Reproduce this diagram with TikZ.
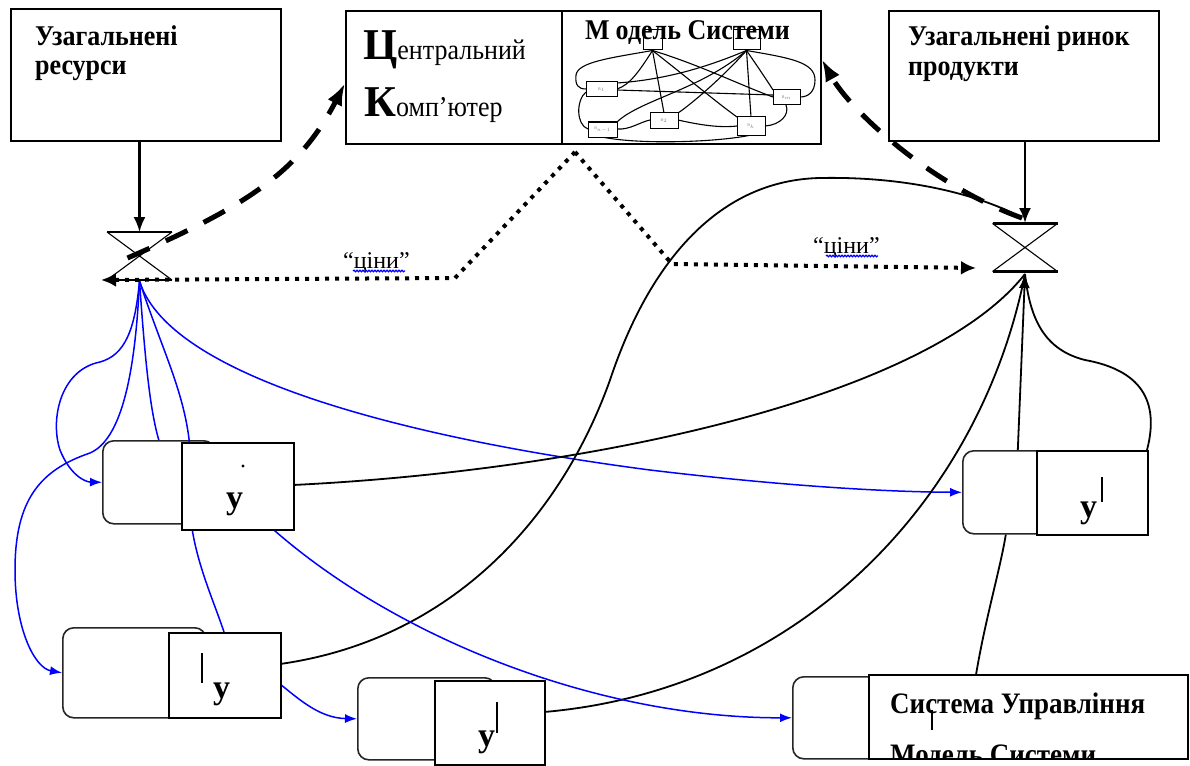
\documentclass[tikz,border=0pt]{standalone}
\usepackage{fontspec}
\setmainfont{Liberation Serif}
\usepackage{graphicx}
\usetikzlibrary{arrows.meta,decorations.pathmorphing}

% slightly tall lettering
\newcommand{\tallish}[1]{\scalebox{1}[1.1]{#1}}

\begin{document}
\begin{tikzpicture}[x=1pt,y=-1pt,
  frame/.style={draw,line width=1.8pt,fill=white,inner sep=0pt,anchor=north west},
  rpart/.style={draw=black!85,line width=1.6pt,fill=white,rounded corners=11pt,inner sep=0pt,anchor=north west},
  spart/.style={draw,line width=1.6pt,fill=white,inner sep=0pt,anchor=north west},
  tinybox/.style={draw,line width=1pt,inner sep=0pt,fill=white,text=black!50,font=\fontsize{4}{4}\selectfont},
  graphline/.style={line width=1.1pt},
  txt/.style={inner sep=0pt,anchor=base west},
  headfont/.style={font=\bfseries\fontsize{26}{26}\selectfont},
  yfont/.style={font=\bfseries\fontsize{34}{34}\selectfont},
  feed/.style={line width=2.2pt,-{Latex[length=15pt,width=12pt]}},
  flow/.style={draw=blue,line width=1.5pt,-{Latex[length=12pt,width=9pt]}},
  link/.style={line width=1.8pt},
  price/.style={line width=4pt,dash pattern=on 4pt off 6pt,-{Latex[length=15pt,width=14pt]}},
  query/.style={line width=5pt,dash pattern=on 24pt off 18pt,-{Latex[length=22pt,width=16pt]}},
  glass/.pic={
    \draw[line width=2.4pt] (-32.5,-24) -- (32.5,-24) (-32.5,24) -- (32.5,24);
    \draw[line width=1.1pt] (-32.5,-24) -- (32.5,24) (32.5,-24) -- (-32.5,24);
  }
]
\useasboundingbox (0,0) rectangle (1190,765);
\fill[white] (0,0) rectangle (1190,765);

% key points of the two exchanges and of the price signals
\coordinate (hl) at (139.5,256);
\coordinate (hlT) at (139.5,232);
\coordinate (hlB) at (139.5,281);
\coordinate (hlW) at (101,280);
\coordinate (hr) at (1025,247.5);
\coordinate (hrT) at (1025,223);
\coordinate (hrB) at (1025,274);
\coordinate (hrW) at (976,268);
\coordinate (split) at (575,152);
\coordinate (bendL) at (455,278);
\coordinate (bendR) at (672,264);

% unit boxes: rounded part with a square part on top
\node[rpart,minimum width=112pt,minimum height=83pt] (aR) at (102,440) {};
\node[rpart,minimum width=143pt,minimum height=90pt] (bR) at (62,627) {};
\node[rpart,minimum width=138pt,minimum height=82pt] (cR) at (357,677) {};
\node[rpart,minimum width=110pt,minimum height=83pt] (dR) at (962,450) {};
\node[rpart,minimum width=366pt,minimum height=82pt] (eR) at (792,676) {};

% resource flows
\draw[flow] (hlB) .. controls (135,330) and (125,355) .. (100,362)
  .. controls (60,370) and (50,420) .. (60,450)
  .. controls (70,475) and (85,482) .. (aR.west);
\draw[flow] (hlB) .. controls (135,380) and (120,440) .. (90,453)
  .. controls (40,470) and (15,500) .. (15,570)
  .. controls (15,630) and (35,668) .. (bR.west);
\draw[flow,-] (hlB) .. controls (145,360) and (150,410) .. (aR.north);
\draw[flow,-] (hlB) .. controls (165,360) and (195,410) .. (190,480)
  .. controls (185,540) and (210,590) .. (224,632);
\draw[flow] (hlB) .. controls (170,380) and (420,440) .. (650,470)
  .. controls (800,488) and (900,492) .. (dR.west);

% product flows into the market
\draw[link] (293,485) .. controls (600,470) and (930,395) .. (hrB);
\draw[link] (280,664) .. controls (450,640) and (560,520) .. (610,380)
  .. controls (650,260) and (720,180) .. (820,178)
  .. controls (920,176) and (990,200) .. (1022,218);
\draw[link] (544,712) .. controls (800,690) and (980,500) .. (hrB);
\draw[link,-{Latex[length=14pt,width=11pt]}] (dR.north) -- (hrB);
\draw[link] (1147,450) .. controls (1160,400) and (1140,370) .. (1085,360)
  .. controls (1045,350) and (1030,320) .. (hrB);
\draw[link] (eR.north) .. controls (985,620) and (1000,570) .. ([xshift=-12pt]dR.south);

% square parts
\node[spart,minimum width=112pt,minimum height=87pt] (aS) at (181,442) {};
\node[spart,minimum width=112pt,minimum height=85pt] (bS) at (168,632) {};
\node[spart,minimum width=110pt,minimum height=84pt] (cS) at (434,680) {};
\node[spart,minimum width=111pt,minimum height=84pt] (dS) at (1036,450) {};
\node[spart,minimum width=319pt,minimum height=84pt] (eS) at (868,674) {};

% flows leaving the units
\draw[flow] ([yshift=-10pt]bS.east) .. controls (300,700) and (320,718) .. (cR.west);
\draw[flow] ([xshift=-20pt]aS.south east) .. controls (400,640) and (600,718) .. (eR.west);

% unit labels
\node[txt,yfont] (aY) at (226,508) {у};
\fill (243,466) circle (1.6pt);
\node[txt,yfont] (bY) at (213,698) {у};
\draw[line width=1.3pt] (202,653) -- (202,683);
\node[txt,yfont] (cY) at (478,746) {у};
\draw[line width=1.3pt] (497,702) -- (497,733);
\node[txt,yfont] (dY) at (1080,517) {у};
\draw[line width=1.3pt] (1102,477) -- (1102,502);
\node[txt,font=\bfseries\fontsize{27}{27}\selectfont] (eT1) at (890,713) {\tallish{Система Управління}};
\begin{scope}
  \clip (eS.south west) rectangle (eS.north east);
  \node[txt,font=\bfseries\fontsize{27}{27}\selectfont] (eT2) at (890,764) {\tallish{Модель Системи}};
\end{scope}
\draw[line width=1.2pt] (932,710) -- (932,730);

% top blocks
\node[frame,minimum width=270pt,minimum height=132pt] (res) at (10,8) {};
\node[txt,headfont] (resT1) at (35,46) {\tallish{Узагальнені}};
\node[txt,headfont] (resT2) at (35,75) {\tallish{ресурси}};

\node[frame,minimum width=270pt,minimum height=130pt] (mkt) at (888,10) {};
\node[txt,headfont] (mktT1) at (908,46) {\tallish{Узагальнені ринок}};
\node[txt,headfont] (mktT2) at (908,76) {\tallish{продукти}};

\node[frame,minimum width=216pt,minimum height=133pt] (cc) at (345,10) {};
\node[frame,minimum width=259pt,minimum height=133pt] (model) at (561,10) {};
\node[txt] (ccT1) at (363,60) {{\bfseries\fontsize{44}{44}\selectfont Ц}\tallish{\fontsize{26}{26}\selectfont ентральний}};
\node[txt] (ccT2) at (364,117) {{\bfseries\fontsize{44}{44}\selectfont К}\tallish{\fontsize{26}{26}\selectfont омп'ютер}};

% small system model graph
\node[tinybox,minimum width=19pt,minimum height=20pt] (t1) at (652.5,40) {};
\node[tinybox,minimum width=27pt,minimum height=20pt] (t2) at (746.5,40) {};
\draw[graphline] (t1.south) .. controls (640,70) and (630,85) .. (617,89);
\draw[graphline] (t1.south) -- (664,113);
\draw[graphline] (t1.south) .. controls (690,80) and (720,105) .. (737,117);
\draw[graphline] (t1.south) .. controls (700,65) and (740,85) .. (773,97);
\draw[graphline] (t1.south) .. controls (610,58) and (578,62) .. (576,75)
  .. controls (575,85) and (578,89) .. (586,89);
\draw[graphline] (t2.south) .. controls (700,70) and (660,80) .. (617,83);
\draw[graphline] (t2.south) .. controls (720,80) and (690,105) .. (678,113);
\draw[graphline] (t2.south) -- (751,117);
\draw[graphline] (t2.south) .. controls (760,70) and (770,85) .. (773,90);
\draw[graphline] (t2.south) .. controls (790,58) and (815,62) .. (815,80)
  .. controls (815,92) and (808,97) .. (800,97);
\draw[graphline] (t2.south) .. controls (700,90) and (640,100) .. (617,122);
\draw[graphline] (586,92) .. controls (576,100) and (576,125) .. (588,129);
\draw[graphline] (617,129) .. controls (630,130) and (640,122) .. (650,120);
\draw[graphline] (678,120) .. controls (700,125) and (720,128) .. (737,126);
\draw[graphline] (765,126) .. controls (780,125) and (790,115) .. (786,105);
\draw[graphline] (617,90) -- (773,95);
\draw[graphline] (602,137) .. controls (640,145) and (720,142) .. (751,135);
\node[tinybox,minimum width=31pt,minimum height=15pt] (b1) at (601.5,89.5) {B$_1$};
\node[tinybox,minimum width=29pt,minimum height=15pt] (bn) at (602.5,129.5) {B$_{n-1}$};
\node[tinybox,minimum width=28pt,minimum height=15pt] (b2) at (664,120.5) {B$_2$};
\node[tinybox,minimum width=27pt,minimum height=15pt] (bm) at (786.5,97.5) {B$_m$};
\node[tinybox,minimum width=28pt,minimum height=18pt] (bk) at (751,126) {B$_k$};
\node[txt,font=\bfseries\fontsize{26}{26}\selectfont] (mT) at (585,40) {\tallish{М\kern6pt одель Системи}};

% exchanges
\pic at (hl) {glass};
\pic at (hr) {glass};
\draw[feed] (res.south -| hlT) -- (hlT);
\draw[feed] (mkt.south -| hrT) -- (hrT);

% queries to the central computer
\draw[query] ([xshift=-12pt,yshift=-2pt]hl) .. controls (250,205) and (300,170) .. ([yshift=-6pt]cc.west);
\draw[query] ([xshift=-3pt,yshift=5pt]hrT) .. controls (930,185) and (850,110) .. ([yshift=18pt]model.east);

% price signals
\draw[price] (split) -- (bendL) -- (hlW);
\draw[price] (split) -- (bendR) -- (hrW);
\node[txt,font=\fontsize{24}{24}\selectfont] (pL) at (343,268) {“ціни”};
\node[txt,font=\fontsize{24}{24}\selectfont] (pR) at (813,253) {“ціни”};
\draw[blue,line width=1.2pt,decorate,decoration={snake,amplitude=0.8pt,segment length=3pt}] (353,271) -- (405,271);
\draw[blue,line width=1.2pt,decorate,decoration={snake,amplitude=0.8pt,segment length=3pt}] (826,256) -- (878,256);
\end{tikzpicture}
\end{document}
